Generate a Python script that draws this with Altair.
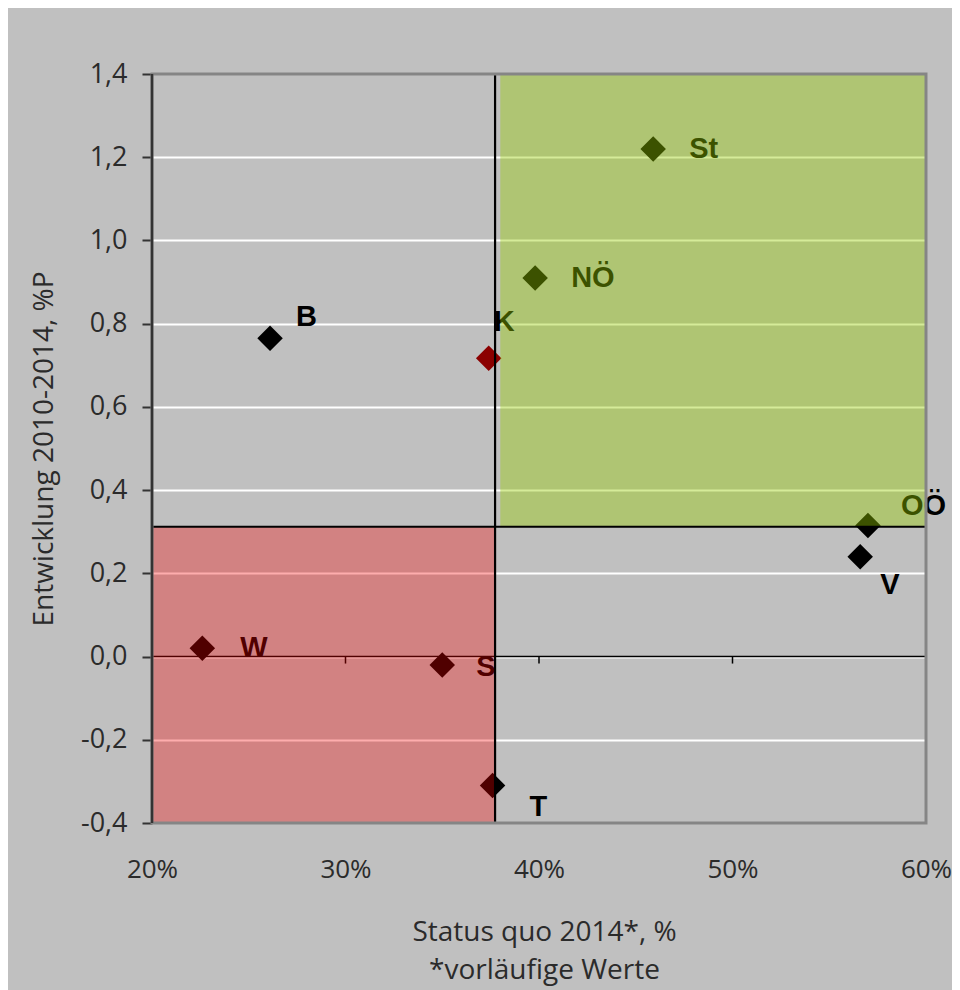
import altair as alt
import pandas as pd

# ---- data ----
labels = ["B", "K", "St", "NÖ", "OÖ", "V", "W", "S", "T"]
status_quo = [26.1, 37.4, 45.9, 39.8, 57.0, 56.6, 22.6, 35.0, 37.6]       # %
entwicklung = [0.765, 0.717, 1.22, 0.91, 0.315, 0.24, 0.02, -0.02, -0.31]  # %P
marker_colors = ["#000000", "#8b0000", "#000000", "#000000", "#000000",
                 "#000000", "#000000", "#000000", "#000000"]

avg_x = [37.73]   # vertical reference line (%)
avg_y = [0.312]   # horizontal reference line (%P)

zone_x = [38.0, 20.0]
zone_x2 = [60.0, 37.73]
zone_y = [0.312, -0.4]
zone_y2 = [1.4, 0.312]
zone_colors = ["#96cd00", "#fa0000"]
zone_opacity = [0.4, 0.32]

x_domain = [20, 60]
y_domain = [-0.4, 1.4]
x_ticks = [20, 30, 40, 50, 60]
y_ticks = [-0.4, -0.2, 0.0, 0.2, 0.4, 0.6, 0.8, 1.0, 1.2, 1.4]

# label offsets in pixels (style)
label_offsets = {
    "B": (26, -21), "K": (5, -36), "St": (36, 0), "NÖ": (36, 0),
    "OÖ": (33, -19), "V": (20, 28), "W": (38, 0), "S": (34, 2), "T": (37, 21),
}

df = pd.DataFrame({"label": labels, "x": status_quo, "y": entwicklung,
                   "color": marker_colors})
zones = pd.DataFrame({"x": zone_x, "x2": zone_x2, "y": zone_y, "y2": zone_y2,
                      "color": zone_colors, "op": zone_opacity})

x_scale = alt.Scale(domain=x_domain, nice=False, zero=False)
y_scale = alt.Scale(domain=y_domain, nice=False, zero=False)

AX_FONT = "Open Sans"
AX_COL = "#2b2b2b"
PLOT_W, PLOT_H = 774, 749

x_axis = alt.Axis(
    values=x_ticks, labelExpr="datum.value + '%'", grid=False, domain=False,
    ticks=False, tickSize=0, labelPadding=54, labelBaseline="alphabetic",
    labelFlush=False, labelFont=AX_FONT, labelFontSize=26, labelColor=AX_COL,
    title=["Status quo  2014*, %", "*vorläufige Werte"],
    titleFont=AX_FONT, titleFontSize=28, titleFontWeight="normal",
    titleColor=AX_COL, titleX=392, titleY=117, titleBaseline="alphabetic",
    titleLineHeight=38,
)
y_axis = alt.Axis(
    values=y_ticks,
    labelExpr="replace(replace(format(datum.value, '.1f'), '.', ','), '\u2212', '-')",
    grid=True,
    gridColor={"condition": {"test": "datum.value > 1.39 || datum.value < -0.39",
                             "value": "transparent"},
               "value": "#ffffff"},
    gridWidth=2,
    domain=False, tickColor="#333333", tickWidth=2,
    tickSize=10, labelPadding=15, labelFont=AX_FONT, labelFontSize=27,
    labelColor=AX_COL, labelFlush=False,
    title="Entwicklung 2010-2014, %P", titleFont=AX_FONT, titleFontSize=28,
    titleFontWeight="normal", titleColor=AX_COL, titleX=-100, titleY=PLOT_H / 2,
    titleBaseline="alphabetic",
)


def X(field="x"):
    return alt.X(f"{field}:Q", scale=x_scale, axis=x_axis)


def Y(field="y"):
    return alt.Y(f"{field}:Q", scale=y_scale, axis=y_axis)


zero_df = pd.DataFrame({"y": [0.0]})
tick_df = pd.DataFrame({"x": x_ticks, "y": [0.0] * len(x_ticks)})

zero_line = alt.Chart(zero_df).mark_rule(color="#000000", strokeWidth=1.5).encode(
    y=Y(),
)
zero_ticks = alt.Chart(tick_df).mark_tick(
    orient="vertical", size=7, thickness=1.5, yOffset=3.5, color="#000000", opacity=1
).encode(x=X(), y=Y())

points = alt.Chart(df).mark_point(
    shape="diamond", filled=True, size=650, opacity=1, strokeWidth=0
).encode(
    x=X(), y=Y(),
    color=alt.Color("color:N", scale=None),
)

text_layers = []
for lab in labels:
    dx, dy = label_offsets[lab]
    text_layers.append(
        alt.Chart(df).transform_filter(alt.datum.label == lab).mark_text(
            align="left", baseline="middle", dx=dx, dy=dy,
            font="Liberation Sans", fontSize=29, fontWeight="bold", color="#000000",
        ).encode(x=X(), y=Y(), text="label:N")
    )

zone_rects = alt.Chart(zones).mark_rect().encode(
    x=X(), x2="x2:Q",
    y=Y(), y2="y2:Q",
    color=alt.Color("color:N", scale=None),
    opacity=alt.Opacity("op:Q", scale=None),
)

vline = alt.Chart(pd.DataFrame({"x": avg_x})).mark_rule(
    color="#000000", strokeWidth=2.2
).encode(x=X())
hline = alt.Chart(pd.DataFrame({"y": avg_y})).mark_rule(
    color="#000000", strokeWidth=2.2
).encode(y=Y())

# plot frame (gray) and dark left axis line, drawn on top
frame = alt.Chart(pd.DataFrame({"x": [x_domain[0]]})).mark_rect(
    fill="transparent", stroke="#858585", strokeWidth=3
).encode(
    x=alt.X("x:Q", scale=x_scale, axis=x_axis), x2=alt.datum(x_domain[1]),
    y=alt.datum(y_domain[0], scale=y_scale), y2=alt.datum(y_domain[1]),
)
left_line = alt.Chart(pd.DataFrame({"x": [x_domain[0]]})).mark_rule(
    color="#333333", strokeWidth=2.5
).encode(x=X())

chart = alt.layer(
    zero_line, zero_ticks, points, *text_layers, zone_rects, vline, hline,
    frame, left_line,
).properties(
    width=PLOT_W, height=PLOT_H,
    autosize=alt.AutoSizeParams(type="none"),
    padding={"left": 144, "top": 66, "right": 944 - 144 - PLOT_W, "bottom": 167},
    background="#c0c0c0",
).configure_view(
    fill="#c0c0c0", stroke=None,
)

chart.save("out.html", embed_options={"renderer": "svg", "actions": False})
